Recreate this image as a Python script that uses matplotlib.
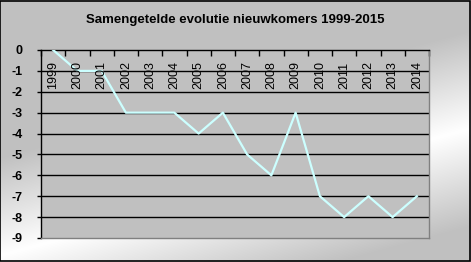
import matplotlib
matplotlib.use("Agg")
import matplotlib.pyplot as plt
import numpy as np
from matplotlib.patches import Rectangle

years = ["1999", "2000", "2001", "2002", "2003", "2004", "2005", "2006",
         "2007", "2008", "2009", "2010", "2011", "2012", "2013", "2014"]
values = [0, -1, -1, -3, -3, -3, -4, -3, -5, -6, -3, -7, -8, -7, -8, -7]
yticks = list(range(0, -10, -1))

W, H = 471, 262
fig = plt.figure(figsize=(W / 100, H / 100), dpi=100)
plt.rcParams["font.family"] = ["Liberation Sans", "DejaVu Sans"]

# background gradient: white band from lower left to middle right
yy, xx = np.mgrid[0:H, 0:W]
x0, y0, x1, y1 = 0, 255, 471, 128
nx, ny = -(y1 - y0), (x1 - x0)
d = np.abs((xx - x0) * nx + (yy - y0) * ny) / np.hypot(nx, ny)
t = np.clip(d / 95.0, 0, 1)
g = 1.0 - (1.0 - 192 / 255) * t
bg = fig.add_axes([0, 0, 1, 1], zorder=-10)
bg.imshow(np.dstack([g, g, g]), aspect="auto", extent=[0, W, H, 0])
bg.set_axis_off()
fig.patches.append(Rectangle((0.001, 0.002), 0.997, 0.995, transform=fig.transFigure,
                             fill=False, edgecolor="black", linewidth=1.2))

fig.text(0.5, 1 - 20 / H, "Samengetelde evolutie nieuwkomers 1999-2015",
         ha="center", va="center", fontsize=9.5, fontweight="bold")

ax = fig.add_axes([41 / W, 1 - 238 / H, 388 / W, 188 / H])
ax.set_facecolor("#c0c0c0")
n = len(years)
xpos = np.arange(n) + 0.5
ax.set_xlim(0, n)
ax.set_ylim(-9, 0)

for yv in yticks[1:-1]:
    ax.axhline(yv, color="black", linewidth=1.0, zorder=1)

ax.plot(xpos, values, color="#ccffff", linewidth=1.6, zorder=3)

ax.set_yticks(yticks)
ax.set_yticklabels([str(v) for v in yticks], fontsize=9, fontweight="bold")
ax.tick_params(axis="y", length=3, width=1, direction="out", pad=10)

ax.set_xticks(np.arange(n + 1))
ax.set_xticklabels([])
ax.tick_params(axis="x", bottom=False, top=True, direction="in", length=4, width=1)
for xp, lab in zip(xpos, years):
    ax.text(xp, -0.55, lab, rotation=90, ha="center", va="top", fontsize=9)

ax.spines["left"].set_color("black")
ax.spines["top"].set_color("black")
ax.spines["right"].set_color("#808080")
ax.spines["bottom"].set_color("#808080")
for s in ax.spines.values():
    s.set_linewidth(1.0)

fig.savefig("out.png", dpi=100)
